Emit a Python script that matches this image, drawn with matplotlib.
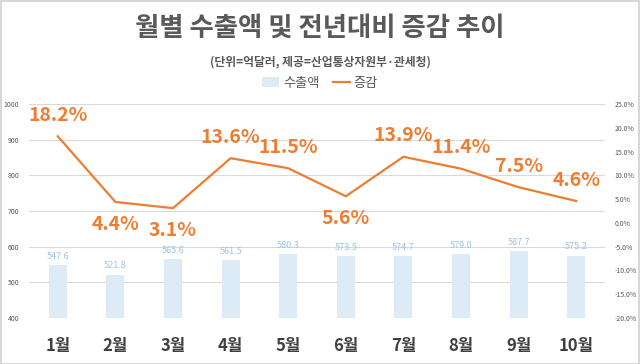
import matplotlib
matplotlib.use("Agg")
import matplotlib.pyplot as plt
from matplotlib.patches import Rectangle, Patch
from matplotlib.lines import Line2D
from matplotlib.ticker import FuncFormatter, MultipleLocator

plt.rcParams['font.family'] = ['Noto Sans CJK KR', 'DejaVu Sans']

months = ['1월', '2월', '3월', '4월', '5월', '6월', '7월', '8월', '9월', '10월']
exports = [547.6, 521.8, 565.6, 561.5, 580.3, 573.5, 574.7, 579.0, 587.7, 575.2]
growth = [18.2, 4.4, 3.1, 13.6, 11.5, 5.6, 13.9, 11.4, 7.5, 4.6]
label_below = [False, True, True, False, False, True, False, False, False, False]

title = '월별 수출액 및 전년대비 증감 추이'
subtitle = '(단위=억달러, 제공=산업통상자원부·관세청)'

BAR = '#DDEBF7'
BAR_TXT = '#9DC3E6'
ORANGE = '#ED7D31'
GRID = '#D9D9D9'
TXT = '#595959'

fig = plt.figure(figsize=(6.4, 3.64), dpi=100)
fig.patches.append(Rectangle((0.001, 0.001), 0.998, 0.997, transform=fig.transFigure,
                             fill=False, edgecolor='#D0D0D0', linewidth=1.2))

ax = fig.add_axes([29/640, 1-318/364, (605-29)/640, (318-104)/364])
x = list(range(len(months)))
bars = ax.bar(x, exports, width=0.31, color=BAR, bottom=0, zorder=2)
ax.set_ylim(400, 1000)
ax.set_xlim(-0.5, len(months)-0.5)
ax.yaxis.set_major_locator(MultipleLocator(100))
ax.grid(axis='y', color=GRID, linewidth=0.8, zorder=0)
ax.set_axisbelow(True)
for s in ax.spines.values():
    s.set_visible(False)
ax.tick_params(axis='y', length=0, labelsize=5, labelcolor=TXT, pad=7)
ax.tick_params(axis='x', length=0, pad=14)
ax.set_xticks(x)
ax.set_xticklabels(months, fontsize=12, fontweight='bold', color='#404040')
for xi, v in zip(x, exports):
    ax.annotate(f'{v:.1f}', (xi, v), xytext=(0, 3), textcoords='offset points',
                ha='center', va='bottom', fontsize=6.5, color=BAR_TXT)

ax2 = ax.twinx()
ax2.plot(x, growth, color=ORANGE, linewidth=1.6, zorder=3)
ax2.set_ylim(-20, 25)
ax2.yaxis.set_major_locator(MultipleLocator(5))
ax2.yaxis.set_major_formatter(FuncFormatter(lambda v, p: f'{v:.1f}%'))
ax2.tick_params(axis='y', length=0, labelsize=5, labelcolor=TXT, pad=7)
for s in ax2.spines.values():
    s.set_visible(False)
for xi, v, b in zip(x, growth, label_below):
    off = -16 if b else 15
    ax2.annotate(f'{v:.1f}%', (xi, v), xytext=(0, off), textcoords='offset points',
                 ha='center', va='center', fontsize=14, fontweight='bold', color=ORANGE)

fig.text(0.5, 1-28/364, title, ha='center', va='center', fontsize=19,
         fontweight='bold', color=TXT)
fig.text(0.5, 1-62/364, subtitle, ha='center', va='center', fontsize=8.5,
         fontweight='bold', color=TXT)

handles = [Patch(facecolor=BAR, edgecolor='none'),
           Line2D([0], [0], color=ORANGE, linewidth=1.6)]
fig.legend(handles, ['수출액', '증감'], loc='center', bbox_to_anchor=(0.5, 1-83/364),
           ncol=2, frameon=False, fontsize=9.5, labelcolor=TXT, handlelength=1.3,
           handletextpad=0.3, columnspacing=1.0)

fig.savefig('out.png', dpi=100)
